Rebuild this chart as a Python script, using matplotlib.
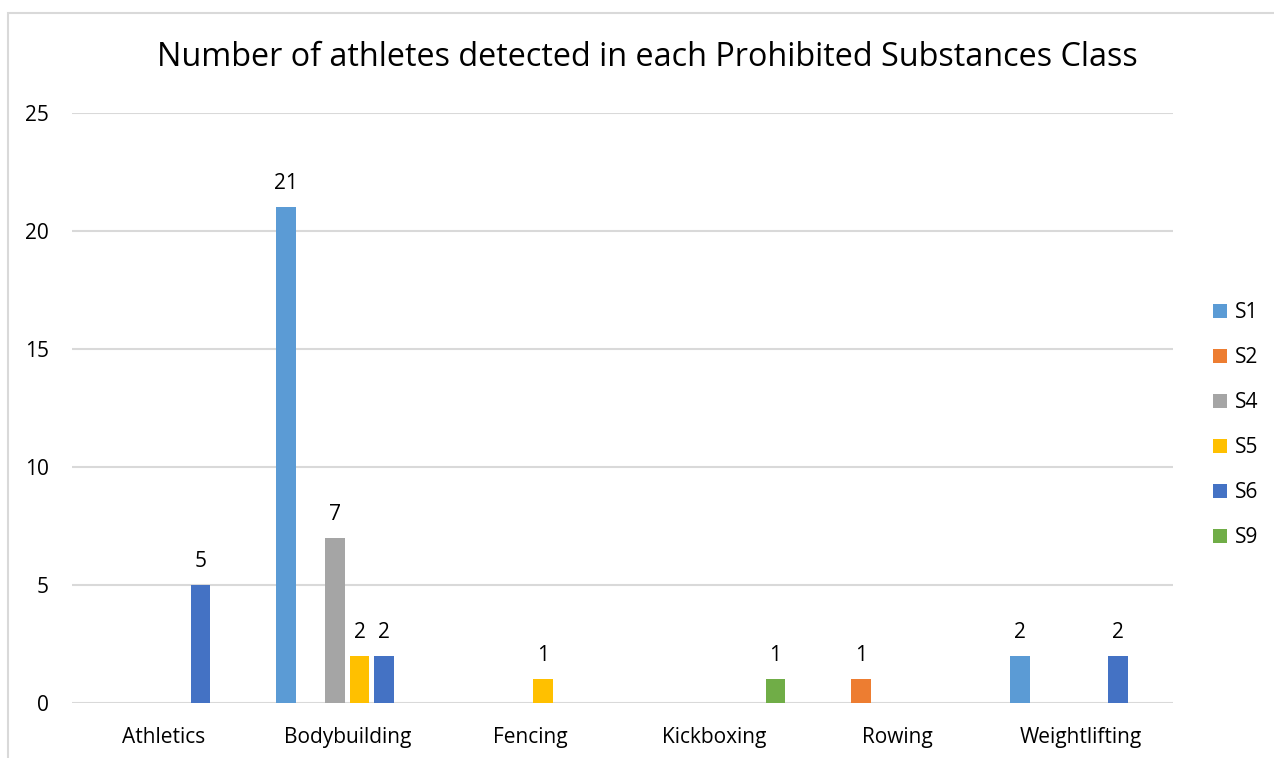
import matplotlib
matplotlib.use("Agg")
import matplotlib.pyplot as plt
import numpy as np
from matplotlib.patches import Rectangle

plt.rcParams['font.family'] = ['Open Sans', 'DejaVu Sans']

# data
sports = ['Athletics', 'Bodybuilding', 'Fencing', 'Kickboxing', 'Rowing', 'Weightlifting']
classes = ['S1', 'S2', 'S4', 'S5', 'S6', 'S9']
s1 = [0, 21, 0, 0, 0, 2]
s2 = [0, 0, 0, 0, 1, 0]
s4 = [0, 7, 0, 0, 0, 0]
s5 = [0, 2, 1, 0, 0, 0]
s6 = [5, 2, 0, 0, 0, 2]
s9 = [0, 0, 0, 1, 0, 0]
colours = ['#5B9BD5', '#ED7D31', '#A5A5A5', '#FFC000', '#4472C4', '#70AD47']
yticks = [0, 5, 10, 15, 20, 25]

series = [s1, s2, s4, s5, s6, s9]

fig = plt.figure(figsize=(12.74, 7.58), dpi=100)
ax = fig.add_axes([72/1274, 1-703/758, (1173-72)/1274, (703-113)/758])

# outer chart border (cropped at right/bottom in the original)
fig.patches.append(Rectangle((8/1274, -0.1), 1.2, 1-13/758+0.1, transform=fig.transFigure,
                             fill=False, edgecolor='#D9D9D9', linewidth=1.5))

x = np.arange(len(sports))
slot = 0.1335
width = 0.106
for i, (vals, name, col) in enumerate(zip(series, classes, colours)):
    pos = x + (i - 2.5) * slot
    ax.bar(pos, vals, width=width, color=col, label=name, zorder=3)
    for px, v in zip(pos, vals):
        if v > 0:
            ax.annotate(str(v), (px, v), xytext=(0, 13), textcoords='offset points',
                        ha='center', va='baseline', fontsize=15, color='#000000')

ax.set_xlim(-0.5, len(sports) - 0.5)
ax.set_ylim(0, 25)
ax.set_yticks(yticks)
ax.set_xticks(x)
ax.set_xticklabels(sports)
ax.tick_params(axis='both', length=0, labelsize=15, colors='#000000')
ax.tick_params(axis='y', pad=16.5)
ax.tick_params(axis='x', pad=17)
ax.grid(axis='y', color='#D9D9D9', linewidth=1.5, zorder=0)
for sp in ax.spines.values():
    sp.set_visible(False)

fig.text(0.5 + 10/1274, 1-58/758, 'Number of athletes detected in each Prohibited Substances Class',
         ha='center', va='center', fontsize=23.3, color='#000000')

ax.legend(loc='center left', bbox_to_anchor=(1213/1274, 1-425/758), bbox_transform=fig.transFigure,
          frameon=False, fontsize=15, handlelength=0.65, handleheight=0.65, handletextpad=0.4,
          labelspacing=1.15, borderpad=0, borderaxespad=0)

fig.savefig('out.png', dpi=100)
